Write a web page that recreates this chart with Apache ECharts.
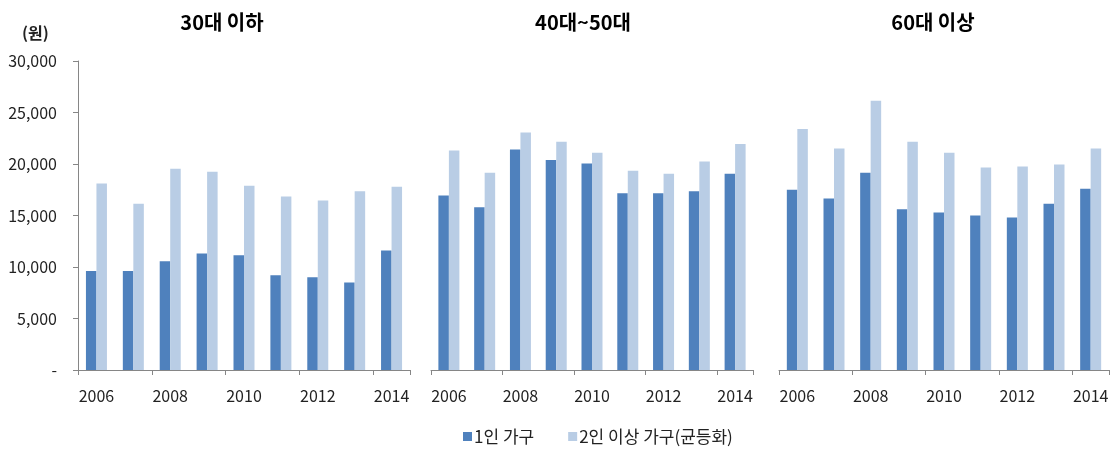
<!DOCTYPE html>
<html>
<head>
<meta charset="utf-8">
<script src="https://cdn.jsdelivr.net/npm/echarts@6/dist/echarts.min.js"></script>
<style>
  html, body { margin: 0; padding: 0; background: #fff; }
  #chart { width: 1117px; height: 470px; }
</style>
</head>
<body>
<div id="chart"></div>
<script>
var years = ["2006", "2007", "2008", "2009", "2010", "2011", "2012", "2013", "2014"];
var panelTitles = ["30대 이하", "40대~50대", "60대 이상"];
var seriesNames = ["1인 가구", "2인 이상 가구(균등화)"];

// 30대 이하
var under30One = [9600, 9600, 10550, 11300, 11150, 9200, 9000, 8500, 11600];
var under30Multi = [18100, 16150, 19550, 19250, 17900, 16850, 16450, 17350, 17800];
// 40대~50대
var mid4050One = [16950, 15800, 21400, 20400, 20050, 17150, 17150, 17350, 19050];
var mid4050Multi = [21300, 19150, 23050, 22150, 21100, 19350, 19050, 20250, 21950];
// 60대 이상
var over60One = [17500, 16650, 19150, 15600, 15300, 15000, 14800, 16150, 17600];
var over60Multi = [23400, 21500, 26150, 22150, 21100, 19650, 19750, 19950, 21500];

var yTicks = [0, 5000, 10000, 15000, 20000, 25000, 30000];

var panelData = [
  [under30One, under30Multi],
  [mid4050One, mid4050Multi],
  [over60One, over60Multi]
];

var grids = [
  { left: 78, top: 61, width: 332, height: 309 },
  { left: 431, top: 61, width: 322, height: 309 },
  { left: 779, top: 61, width: 330, height: 309 }
];
var titleX = [217, 578, 928];
var colors = ["#4F81BD", "#B9CDE5"];
var axisColor = "#868686";
var font = "'Noto Sans CJK KR', 'Malgun Gothic', sans-serif";

var myChart = echarts.init(document.getElementById("chart"));

var xAxes = [], yAxes = [], series = [], titles = [];
grids.forEach(function (g, i) {
  titles.push({
    text: panelTitles[i],
    left: titleX[i],
    top: 7,
    textAlign: "center",
    textStyle: { fontFamily: font, fontSize: 20, fontWeight: "bold", color: "#000" }
  });
  xAxes.push({
    type: "category",
    gridIndex: i,
    data: years,
    axisLine: { lineStyle: { color: axisColor } },
    axisTick: { show: true, length: 5, lineStyle: { color: axisColor } },
    axisLabel: { interval: 1, margin: 18, color: "#222", fontSize: 16, fontFamily: font }
  });
  yAxes.push({
    type: "value",
    gridIndex: i,
    min: yTicks[0],
    max: yTicks[yTicks.length - 1],
    interval: yTicks[1] - yTicks[0],
    show: i === 0,
    splitLine: { show: false },
    axisLine: { show: true, lineStyle: { color: axisColor } },
    axisTick: { show: true, length: 5, lineStyle: { color: axisColor } },
    axisLabel: {
      margin: 21,
      color: "#222",
      fontSize: 16,
      fontFamily: font,
      formatter: function (v) {
        return v === 0 ? "-" : v.toLocaleString("en-US");
      }
    }
  });
  panelData[i].forEach(function (vals, s) {
    series.push({
      name: seriesNames[s],
      type: "bar",
      xAxisIndex: i,
      yAxisIndex: i,
      data: vals,
      barWidth: 10.5,
      barGap: "0%",
      itemStyle: { color: colors[s] }
    });
  });
});

myChart.setOption({
  animation: false,
  title: titles,
  grid: grids,
  xAxis: xAxes,
  yAxis: yAxes,
  legend: {
    data: seriesNames,
    bottom: 20,
    left: 458,
    itemWidth: 9,
    itemHeight: 9,
    itemGap: 34,
    icon: "rect",
    textStyle: { fontFamily: font, fontSize: 17, color: "#222", padding: [0, 0, 0, -3] }
  },
  graphic: [
    {
      type: "text",
      left: 22,
      top: 25,
      style: { text: "(원)", font: "bold 16px " + font, fill: "#222" }
    }
  ],
  series: series
});
</script>
</body>
</html>
